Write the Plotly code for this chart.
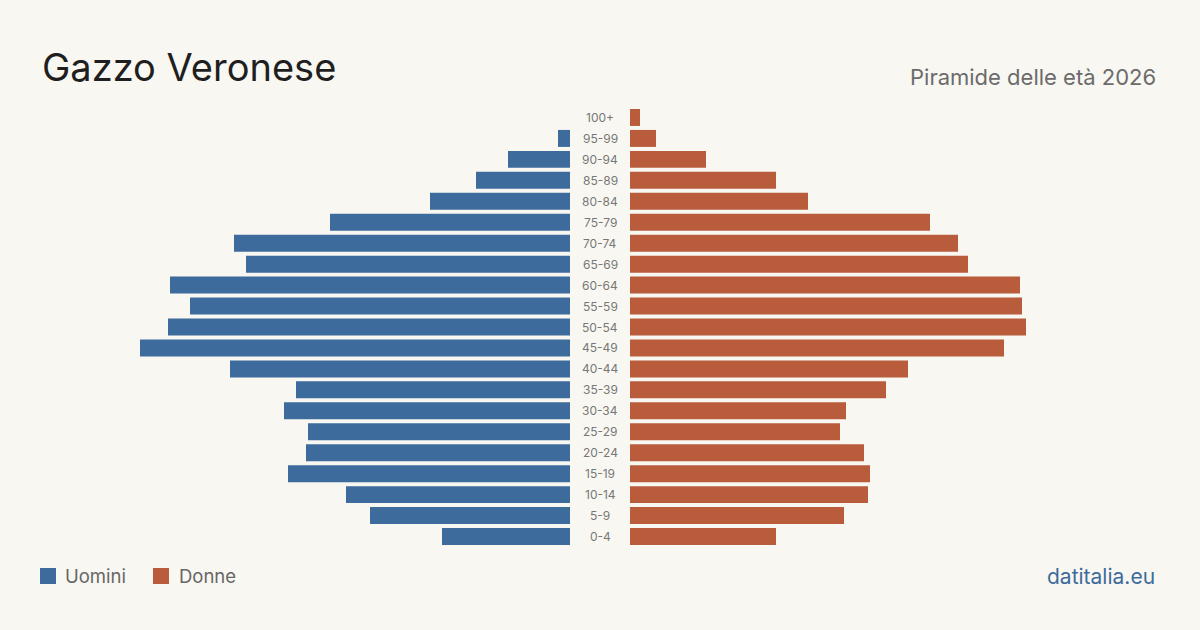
import plotly.graph_objects as go

ages = ["100+", "95-99", "90-94", "85-89", "80-84", "75-79", "70-74", "65-69", "60-64", "55-59",
        "50-54", "45-49", "40-44", "35-39", "30-34", "25-29", "20-24", "15-19", "10-14", "5-9", "0-4"]
uomini = [0, 6, 31, 47, 70, 120, 168, 162, 200, 190, 201, 215, 170, 137, 143, 131, 132, 141, 112, 100, 64]
donne = [5, 13, 38, 73, 89, 150, 164, 169, 195, 196, 198, 187, 139, 128, 108, 105, 117, 120, 119, 107, 73]

title = "Gazzo Veronese"
subtitle = "Piramide delle età 2026"
source = "datitalia.eu"

BG = "#f9f7f2"
C_M = "#3d6b9b"
C_F = "#b85c3c"
FONT = "Inter"

fig = go.Figure()
fig.add_trace(go.Bar(y=ages, x=uomini, orientation="h", marker=dict(color=C_M, line=dict(width=0)),
                     xaxis="x", yaxis="y", name="Uomini", showlegend=False))
fig.add_trace(go.Bar(y=ages, x=donne, orientation="h", marker=dict(color=C_F, line=dict(width=0)),
                     xaxis="x2", yaxis="y", name="Donne", showlegend=False))

XMAX = 285
W = 1200
T, B = 107, 547
H = B - T
ann = []
for a in ages:
    ann.append(dict(x=0.5, y=a, xref="paper", yref="y", text=a, showarrow=False,
                    font=dict(family=FONT, size=12, color="#777"), xanchor="center", yanchor="middle"))
ann.append(dict(x=40 / W, y=1 + (T - 67) / H, xref="paper", yref="paper", text=title, showarrow=False,
                xanchor="left", yanchor="middle", font=dict(family=FONT, size=38, color="#1f1f1f")))
ann.append(dict(x=1158 / W, y=1 + (T - 77) / H, xref="paper", yref="paper", text=subtitle, showarrow=False,
                xanchor="right", yanchor="middle", font=dict(family=FONT, size=22, color="#6b6b6b")))
ann.append(dict(x=1157 / W, y=-(576 - B) / H, xref="paper", yref="paper", text=source, showarrow=False,
                xanchor="right", yanchor="middle", font=dict(family=FONT, size=21, color="#3d6b9b")))
ann.append(dict(x=63 / W, y=-(576 - B) / H, xref="paper", yref="paper", text="Uomini", showarrow=False,
                xanchor="left", yanchor="middle", font=dict(family=FONT, size=18.5, color="#666")))
ann.append(dict(x=177 / W, y=-(576 - B) / H, xref="paper", yref="paper", text="Donne", showarrow=False,
                xanchor="left", yanchor="middle", font=dict(family=FONT, size=18.5, color="#666")))

shapes = [
    dict(type="rect", xref="paper", yref="paper", x0=40 / W, x1=56 / W,
         y0=-(584 - B) / H, y1=-(568 - B) / H, fillcolor=C_M, line=dict(width=0)),
    dict(type="rect", xref="paper", yref="paper", x0=153 / W, x1=169 / W,
         y0=-(584 - B) / H, y1=-(568 - B) / H, fillcolor=C_F, line=dict(width=0)),
]

fig.update_layout(
    width=1200, height=630,
    margin=dict(l=0, r=0, t=T, b=630 - B),
    paper_bgcolor=BG, plot_bgcolor=BG,
    bargap=0.19,
    xaxis=dict(domain=[0, 570 / W], range=[XMAX, 0], visible=False, fixedrange=True),
    xaxis2=dict(domain=[630 / W, 1], range=[0, XMAX], visible=False, fixedrange=True),
    yaxis=dict(categoryorder="array", categoryarray=ages[::-1], range=[-0.5, 20.5],
               visible=False, fixedrange=True),
    annotations=ann, shapes=shapes,
    showlegend=False,
)

fig.write_html("out.html")
